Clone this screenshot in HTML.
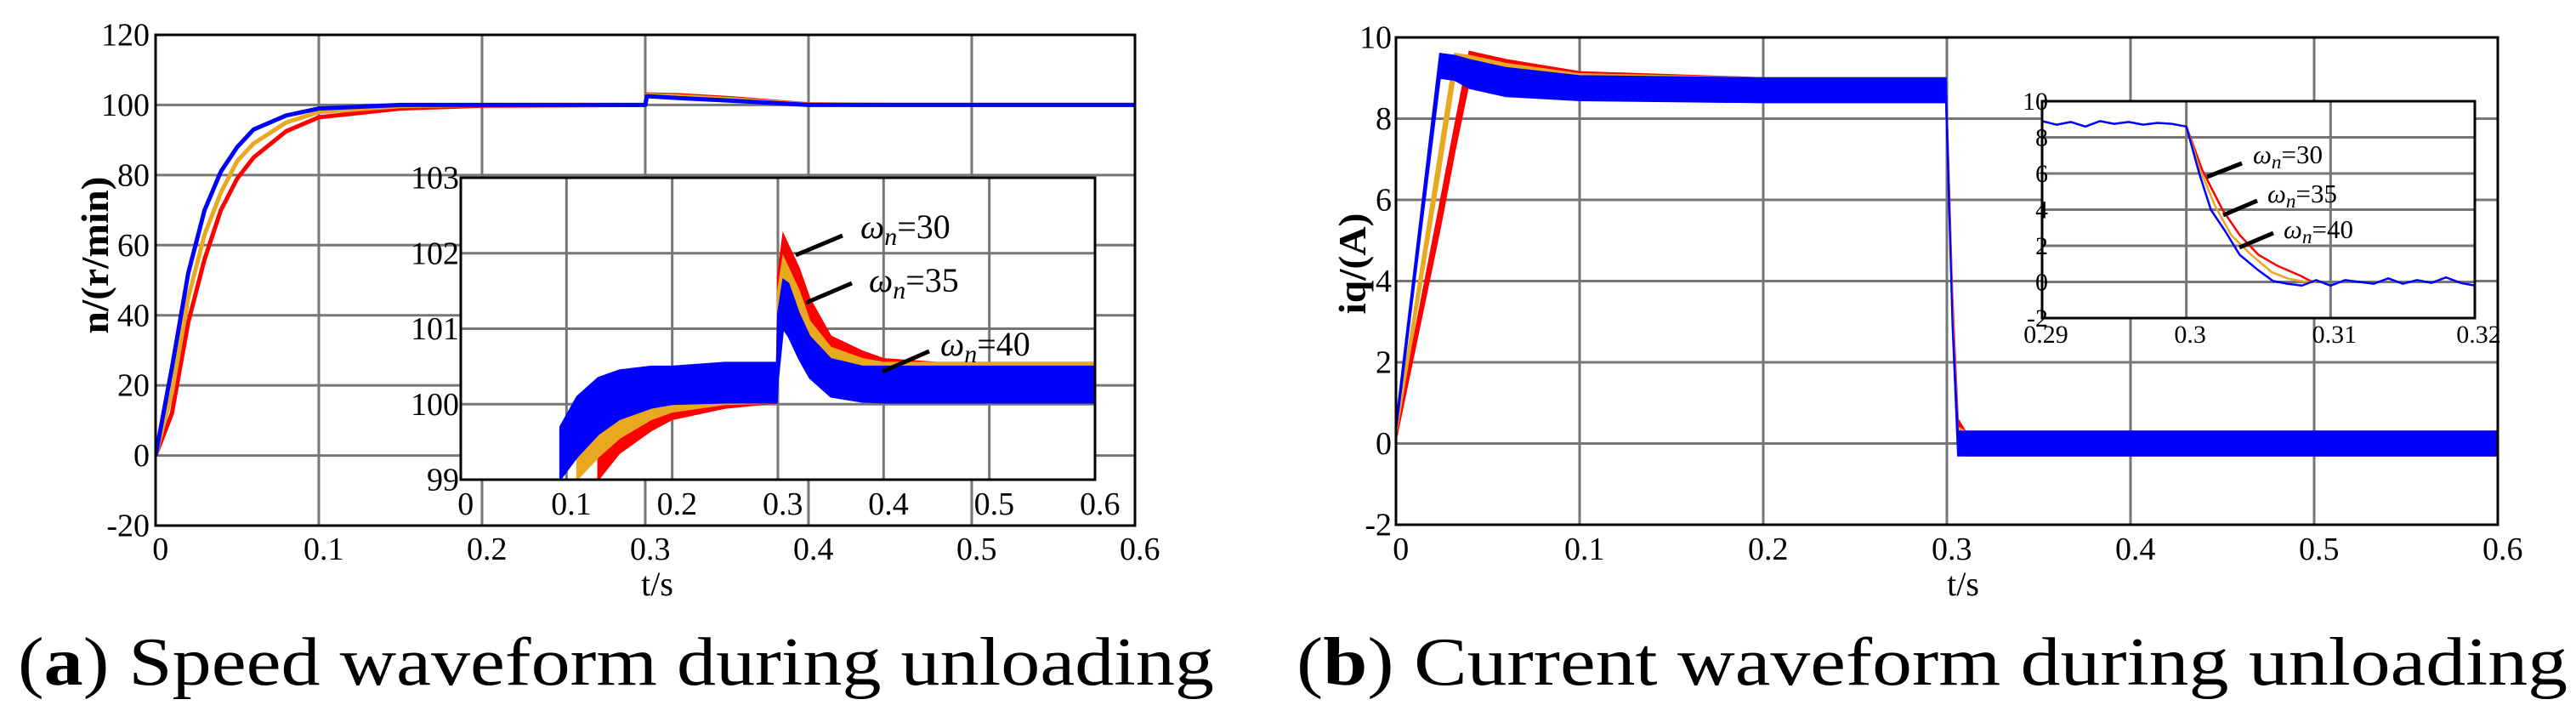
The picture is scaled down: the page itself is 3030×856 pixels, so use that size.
<!DOCTYPE html>
<html><head><meta charset="utf-8"><style>
html,body{margin:0;padding:0;background:#fff;}
svg{display:block;font-family:"Liberation Serif","Times New Roman",serif;}
text{font-family:"Liberation Serif","Times New Roman",serif;}
</style></head><body>
<svg id="fig" width="3030" height="856" viewBox="0 0 3030 856" xmlns="http://www.w3.org/2000/svg">
<rect width="3030" height="856" fill="#fff"/>
<g id="layer"></g>
</svg>
<script>
// ---------- DATA: panel (a) speed, main ----------
const speedT      = [0, 0.01, 0.02, 0.03, 0.04, 0.05, 0.06, 0.08, 0.1, 0.15, 0.2, 0.3, 0.301, 0.32, 0.35, 0.4, 0.45, 0.6];
const speedBlue   = [0, 25, 52, 70, 81, 88, 93, 97, 99, 100, 100, 100, 102.5, 102, 101.3, 100, 100, 100];
const speedOrange = [0, 18, 45, 63, 75, 84, 89, 95, 98, 99.7, 100, 100, 102.8, 102.5, 101.7, 100.1, 100, 100];
const speedRed    = [0, 12, 38, 56, 70, 79, 85, 92.5, 96.5, 99, 99.8, 100, 103, 102.8, 102, 100.2, 100, 100];
const speedYTicks = [-20, 0, 20, 40, 60, 80, 100, 120];
const speedXTicks = [0, 0.1, 0.2, 0.3, 0.4, 0.5, 0.6];
// ---------- DATA: panel (a) inset (bands) ----------
const insT        = [0.094, 0.11, 0.13, 0.15, 0.18, 0.2, 0.25, 0.299, 0.3, 0.305, 0.31, 0.32, 0.33, 0.35, 0.38, 0.4, 0.45, 0.6];
const insBlueLo   = [99, 99.3, 99.6, 99.8, 99.95, 100.0, 100.02, 100.02, 100.3, 101.0, 100.9, 100.6, 100.35, 100.1, 100.03, 100.02, 100.02, 100.02];
const insBlueHi   = [99.7, 100.1, 100.35, 100.45, 100.5, 100.5, 100.55, 100.55, 101.2, 101.65, 101.6, 101.2, 100.9, 100.6, 100.5, 100.5, 100.5, 100.5];
const insOrangeLo = [null, 99, 99.3, 99.55, 99.8, 99.9, 100.0, 100.02, 100.3, 101.3, 101.3, 100.9, 100.6, 100.25, 100.1, 100.05, 100.05, 100.05];
const insOrangeHi = [null, 99.6, 99.9, 100.05, 100.2, 100.3, 100.45, 100.55, 101.5, 101.95, 101.8, 101.5, 101.1, 100.75, 100.6, 100.55, 100.55, 100.55];
const insRedLo    = [null, null, 99, 99.35, 99.65, 99.8, 99.95, 100.02, 100.4, 101.5, 101.5, 101.2, 100.85, 100.45, 100.2, 100.1, 100.05, 100.05];
const insRedHi    = [null, null, 99.6, 99.9, 100.1, 100.25, 100.45, 100.55, 101.7, 102.25, 102.1, 101.8, 101.4, 100.9, 100.7, 100.6, 100.55, 100.55];
const insYTicks   = [99, 100, 101, 102, 103];
const insXTicks   = [0, 0.1, 0.2, 0.3, 0.4, 0.5, 0.6];
// ---------- DATA: panel (b) current, main ----------
const curT        = [0, 0.024, 0.032, 0.04, 0.06, 0.1, 0.2, 0.2995, 0.303, 0.306, 0.31, 0.6];
const curBlue     = [0.4, 9.3, 9.25, 9.1, 8.9, 8.75, 8.7, 8.7, 3.0, 0, 0, 0];
const curOrange   = [0.3, 7.0, 9.3, 9.2, 9.0, 8.8, 8.7, 8.7, 3.3, 0.1, 0, 0];
const curRed      = [0.2, 5.6, 7.5, 9.3, 9.1, 8.85, 8.7, 8.7, 3.6, 0.3, 0, 0];
const curRipple   = [0.1, 0.3, 0.3, 0.35, 0.35, 0.3, 0.3, 0.3, 0.1, 0.3, 0.3, 0.3];
const curYTicks   = [-2, 0, 2, 4, 6, 8, 10];
const curXTicks   = [0, 0.1, 0.2, 0.3, 0.4, 0.5, 0.6];
// ---------- DATA: panel (b) inset ----------
const cinBlueT    = [0.29,0.291,0.292,0.293,0.294,0.295,0.296,0.297,0.298,0.299,0.3,0.3009,0.3017,0.3027,0.3037,0.3049,0.306,0.307,0.308,0.309,0.31,0.311,0.312,0.313,0.314,0.315,0.316,0.317,0.318,0.319,0.32];
const cinBlue     = [8.9,8.7,8.85,8.6,8.9,8.75,8.85,8.7,8.8,8.75,8.6,6.0,4.0,2.8,1.5,0.7,0.05,-0.1,-0.2,0.1,-0.2,0.1,0,-0.1,0.2,-0.1,0.1,-0.05,0.25,-0.05,-0.2];
const cinOrangeT  = [0.3,0.3009,0.302,0.3031,0.3045,0.3059,0.307,0.3083,0.309];
const cinOrange   = [8.6,6.3,4.2,2.6,1.5,0.55,0.2,0,0];
const cinRedT     = [0.3,0.3011,0.3025,0.3037,0.305,0.3063,0.3079,0.3086,0.309];
const cinRed      = [8.6,6.2,4.0,2.6,1.5,0.9,0.35,0.05,0];
const cinYTicks   = [-2, 0, 2, 4, 6, 8, 10];
const cinXTicks   = [0.29, 0.3, 0.31, 0.32];

const NS = "http://www.w3.org/2000/svg";
const L = document.getElementById('layer');
const BLUE = "#0000ff", ORANGE = "#e8a820", RED = "#ff0000", GRID = "#767676";
const FONT = "Liberation Serif, Times New Roman, serif";

function mk(tag, attrs, parent) {
  const e = document.createElementNS(NS, tag);
  for (const k in attrs) e.setAttribute(k, attrs[k]);
  if (tag === 'text') e.setAttribute('font-family', FONT);
  (parent || L).appendChild(e);
  return e;
}
function lin(d0, d1, p0, p1) { return v => p0 + (v - d0) * (p1 - p0) / (d1 - d0); }

function axesFrame(g, x, y, box, xt, yt, xFmt, yFmt, fs, xlabBase, ylabRight, gridW, name) {
  if (box.fill) { const r = mk('rect', {x: box.l, y: box.t, width: box.r - box.l, height: box.b - box.t, fill: '#fff'}, g);   }
  xt.forEach(v => {
    const gl = mk('line', {x1: x(v), x2: x(v), y1: box.t, y2: box.b, stroke: GRID, 'stroke-width': gridW}, g);
    
    
    const t = mk('text', {x: x(v) + fs * 0.15, y: xlabBase, 'font-size': fs, 'text-anchor': 'middle', fill: '#000'}, g);
    t.textContent = xFmt(v);
    
    
  });
  yt.forEach(v => {
    const gl = mk('line', {x1: box.l, x2: box.r, y1: y(v), y2: y(v), stroke: GRID, 'stroke-width': gridW}, g);
    
    
    const t = mk('text', {x: ylabRight, y: y(v) + fs * 0.33, 'font-size': fs, 'text-anchor': 'end', fill: '#000'}, g);
    t.textContent = yFmt(v);
    
    
  });
}
function frameBox(g, box, name) {
  const r = mk('rect', {x: box.l, y: box.t, width: box.r - box.l, height: box.b - box.t, fill: 'none', stroke: '#000', 'stroke-width': 3}, g);
  
  
}
function polyline(g, xs, ys, x, y, color, w, name) {
  const pts = [];
  for (let i = 0; i < xs.length; i++) if (ys[i] !== null) pts.push(x(xs[i]).toFixed(1) + ',' + y(ys[i]).toFixed(1));
  const p = mk('polyline', {points: pts.join(' '), fill: 'none', stroke: color, 'stroke-width': w, 'stroke-linejoin': 'round'}, g);
  
  
}
function band(g, xs, lo, hi, x, y, color, name) {
  const up = [], dn = [];
  for (let i = 0; i < xs.length; i++) if (lo[i] !== null && hi[i] !== null) {
    up.push(x(xs[i]).toFixed(1) + ',' + y(hi[i]).toFixed(1));
    dn.unshift(x(xs[i]).toFixed(1) + ',' + y(lo[i]).toFixed(1));
  }
  const p = mk('polygon', {points: up.concat(dn).join(' '), fill: color, stroke: color, 'stroke-width': 2}, g);
  
  
}
function label(g, txt, x, y, fs, name, extra) {
  const t = mk('text', Object.assign({x: x, y: y, 'font-size': fs, fill: '#000'}, extra || {}), g);
  t.textContent = txt;
  
  
  return t;
}
function omega(g, txt, x, yb, fs, lx1, ly1, lx2, ly2, name) {
  const t = mk('text', {x: x, y: yb, 'font-size': fs, fill: '#000'}, g);
  
  
  const a = mk('tspan', {'font-style': 'italic'}, t); a.textContent = 'ω';
  const b = mk('tspan', {'font-style': 'italic', 'font-size': fs * 0.75, dy: fs * 0.2}, t); b.textContent = 'n';
  const c = mk('tspan', {dy: -fs * 0.2}, t); c.textContent = txt;
  const ln = mk('line', {x1: lx1, y1: ly1, x2: lx2, y2: ly2, stroke: '#000', 'stroke-width': 5}, g);
  
  
}

// ===== Panel (a) =====
const gA = mk('g', {});  
const boxA = {l: 183, r: 1335, t: 41, b: 618};
const xA = lin(0, 0.6, boxA.l, boxA.r), yA = lin(-20, 120, boxA.b, boxA.t);
axesFrame(gA, xA, yA, boxA, speedXTicks, speedYTicks, v => String(v), v => String(v), 38, 658, 176, 3, 'speed');
const clipA = mk('clipPath', {id: 'clipA'}, gA); mk('rect', {x: boxA.l, y: boxA.t, width: boxA.r - boxA.l, height: boxA.b - boxA.t}, clipA);
const sA = mk('g', {'clip-path': 'url(#clipA)'}, gA);
polyline(sA, speedT, speedRed, xA, yA, RED, 5, 'speed-series-wn30');
polyline(sA, speedT, speedOrange, xA, yA, ORANGE, 5, 'speed-series-wn35');
polyline(sA, speedT, speedBlue, xA, yA, BLUE, 5, 'speed-series-wn40');
frameBox(gA, boxA, 'speed');
// inset a
const boxAi = {l: 542, r: 1288, t: 209, b: 564, fill: true};
const xAi = lin(0, 0.6, boxAi.l, boxAi.r), yAi = lin(99, 103, boxAi.b, boxAi.t);
axesFrame(gA, xAi, yAi, boxAi, insXTicks, insYTicks, v => String(v), v => String(v), 38, 605, 540, 3, 'speed-inset');
const clipAi = mk('clipPath', {id: 'clipAi'}, gA); mk('rect', {x: boxAi.l, y: boxAi.t, width: boxAi.r - boxAi.l, height: boxAi.b - boxAi.t}, clipAi);
const sAi = mk('g', {'clip-path': 'url(#clipAi)'}, gA);
band(sAi, insT, insRedLo, insRedHi, xAi, yAi, RED, 'speed-inset-band-wn30');
band(sAi, insT, insOrangeLo, insOrangeHi, xAi, yAi, ORANGE, 'speed-inset-band-wn35');
band(sAi, insT, insBlueLo, insBlueHi, xAi, yAi, BLUE, 'speed-inset-band-wn40');
frameBox(gA, boxAi, 'speed-inset');
omega(gA, '=30', 1012, 280, 40, 991, 277, 936, 300, 'annotation-wn30-speed');
omega(gA, '=35', 1022, 343, 40, 1002, 333, 948, 356, 'annotation-wn35-speed');
omega(gA, '=40', 1106, 418, 40, 1093, 413, 1038, 437, 'annotation-wn40-speed');
label(gA, 't/s', 773, 700, 40, 'speed-x-axis-title', {'text-anchor': 'middle'});
label(gA, 'n/(r/min)', 0, 0, 46, 'speed-y-axis-title', {'text-anchor': 'middle', 'font-weight': 'bold', transform: 'translate(127,300) rotate(-90)', textLength: 185, lengthAdjust: 'spacingAndGlyphs'});
const capA = label(gA, '', 21, 805, 80, 'speed-caption', {textLength: 1407, lengthAdjust: 'spacingAndGlyphs'});
capA.innerHTML = '(<tspan font-weight="bold">a</tspan>) Speed waveform during unloading';

// ===== Panel (b) =====
const gB = mk('g', {});  
const boxB = {l: 1642, r: 2938, t: 44, b: 617};
const xB = lin(0, 0.6, boxB.l, boxB.r), yB = lin(-2, 10, boxB.b, boxB.t);
axesFrame(gB, xB, yB, boxB, curXTicks, curYTicks, v => String(v), v => String(v), 38, 658, 1637, 3, 'current');
const clipB = mk('clipPath', {id: 'clipB'}, gB); mk('rect', {x: boxB.l, y: boxB.t, width: boxB.r - boxB.l, height: boxB.b - boxB.t}, clipB);
const sB = mk('g', {'clip-path': 'url(#clipB)'}, gB);
band(sB, curT, curRed.map((v, i) => v - curRipple[i]), curRed.map((v, i) => v + curRipple[i]), xB, yB, RED, 'current-series-wn30');
band(sB, curT, curOrange.map((v, i) => v - curRipple[i]), curOrange.map((v, i) => v + curRipple[i]), xB, yB, ORANGE, 'current-series-wn35');
band(sB, curT, curBlue.map((v, i) => v - curRipple[i]), curBlue.map((v, i) => v + curRipple[i]), xB, yB, BLUE, 'current-series-wn40');
frameBox(gB, boxB, 'current');
// inset b
const boxBi = {l: 2402, r: 2911, t: 119, b: 374, fill: true};
const xBi = lin(0.29, 0.32, boxBi.l, boxBi.r), yBi = lin(-2, 10, boxBi.b, boxBi.t);
axesFrame(gB, xBi, yBi, boxBi, cinXTicks, cinYTicks, v => String(v), v => String(v), 30, 403, 2409, 3, 'current-inset');
const sBi = mk('g', {}, gB);
polyline(sBi, cinRedT, cinRed, xBi, yBi, RED, 2.5, 'current-inset-series-wn30');
polyline(sBi, cinOrangeT, cinOrange, xBi, yBi, ORANGE, 2.5, 'current-inset-series-wn35');
polyline(sBi, cinBlueT, cinBlue, xBi, yBi, BLUE, 2.5, 'current-inset-series-wn40');
frameBox(gB, boxBi, 'current-inset');
omega(gB, '=30', 2650, 192, 31, 2637, 192, 2596, 208, 'annotation-wn30-current');
omega(gB, '=35', 2667, 238, 31, 2655, 236, 2615, 253, 'annotation-wn35-current');
omega(gB, '=40', 2686, 280, 31, 2674, 274, 2634, 291, 'annotation-wn40-current');
label(gB, 't/s', 2309, 700, 40, 'current-x-axis-title', {'text-anchor': 'middle'});
label(gB, 'iq/(A)', 0, 0, 46, 'current-y-axis-title', {'text-anchor': 'middle', 'font-weight': 'bold', transform: 'translate(1606,310) rotate(-90)', textLength: 119, lengthAdjust: 'spacingAndGlyphs'});
const capB = label(gB, '', 1525, 805, 80, 'current-caption', {textLength: 1495, lengthAdjust: 'spacingAndGlyphs'});
capB.innerHTML = '(<tspan font-weight="bold">b</tspan>) Current waveform during unloading';
</script>
</body></html>
